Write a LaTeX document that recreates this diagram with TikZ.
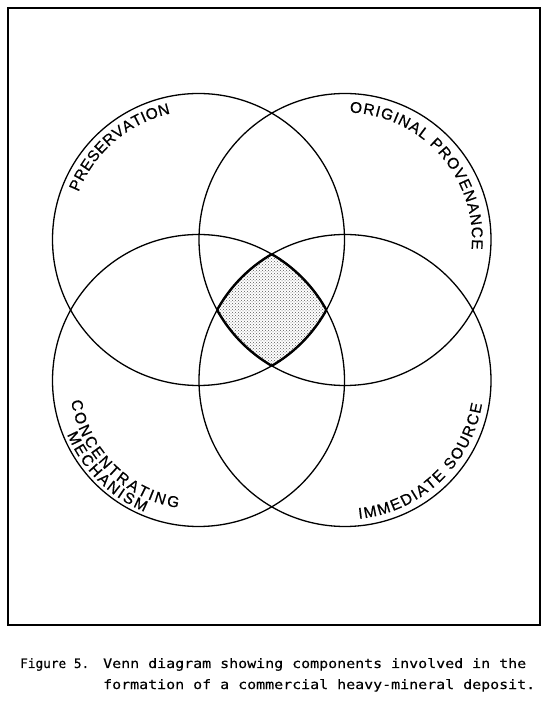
\documentclass[tikz,border=0pt]{standalone}
\usepackage{fontspec}
\setmainfont{Liberation Sans}
\newfontfamily\lblfont[FakeBold=0.6]{Liberation Sans}
\newfontfamily\capfont[FakeStretch=1.15,FakeBold=0.4]{DejaVu Sans Mono}
\newfontfamily\figfont[FakeStretch=0.98,FakeBold=0.4]{DejaVu Sans Mono}
\usetikzlibrary{decorations.text,patterns}
\begin{document}
\begin{tikzpicture}[x=1pt,y=1pt,
  ring/.style={line width=1.3pt},
  core/.style={line width=2.4pt},
  framebox/.style={line width=2.2pt},
  lbl/.style={decorate, decoration={text along path, text align=center, text={#1}}},
  capt/.style={anchor=base west, inner sep=0pt, font=\capfont\fontsize{13}{15}\selectfont},
  figt/.style={anchor=base west, inner sep=0pt, font=\figfont\fontsize{13}{15}\selectfont}]
\useasboundingbox (0,0) rectangle (547,701);
\draw[framebox] (8,76) rectangle (540,693);
\coordinate (tl) at (198.5,461.5);
\coordinate (tr) at (345,461.5);
\coordinate (bl) at (198.5,320.5);
\coordinate (br) at (345,320.5);
% shaded core
\begin{scope}
\clip (tl) circle[radius=146];
\clip (tr) circle[radius=146];
\clip (bl) circle[radius=146];
\fill[pattern=crosshatch dots, pattern color=black!65] (br) circle[radius=146];
\end{scope}
% circles
\draw[ring] (tl) circle[radius=146];
\draw[ring] (tr) circle[radius=146];
\draw[ring] (bl) circle[radius=146];
\draw[ring] (br) circle[radius=146];
% thicker outline of the core
\begin{scope}
\clip (tr) circle[radius=146]; \clip (bl) circle[radius=146]; \clip (br) circle[radius=146];
\draw[core] (tl) circle[radius=146];
\end{scope}
\begin{scope}
\clip (tl) circle[radius=146]; \clip (bl) circle[radius=146]; \clip (br) circle[radius=146];
\draw[core] (tr) circle[radius=146];
\end{scope}
\begin{scope}
\clip (tl) circle[radius=146]; \clip (tr) circle[radius=146]; \clip (br) circle[radius=146];
\draw[core] (bl) circle[radius=146];
\end{scope}
\begin{scope}
\clip (tl) circle[radius=146]; \clip (tr) circle[radius=146]; \clip (bl) circle[radius=146];
\draw[core] (br) circle[radius=146];
\end{scope}
% labels
\path[lbl={|\lblfont\fontsize{15.5}{15.5}\selectfont|{P\kern.4pt}{R\kern.4pt}{E\kern.4pt}{S\kern.4pt}{E\kern.4pt}{R\kern.4pt}{V\kern.4pt}{A\kern.4pt}{T\kern.4pt}{I\kern.4pt}{O\kern.4pt}N}]
  (tl) ++(180:129) arc[start angle=180, end angle=81, radius=129];
\path[lbl={|\lblfont\fontsize{15.5}{15.5}\selectfont|{O\kern1pt}{R\kern1pt}{I\kern1pt}{G\kern1pt}{I\kern1pt}{N\kern1pt}{A\kern1pt}{L\kern1pt}{\ \kern1pt}{P\kern1pt}{R\kern1pt}{O\kern1pt}{V\kern1pt}{E\kern1pt}{N\kern1pt}{A\kern1pt}{N\kern1pt}{C\kern1pt}E}]
  (tr) ++(110:127) arc[start angle=110, end angle=-26.6, radius=127];
\path[lbl={|\lblfont\fontsize{15.5}{15.5}\selectfont|{C\kern2.2pt}{O\kern2.2pt}{N\kern2.2pt}{C\kern2.2pt}{E\kern2.2pt}{N\kern2.2pt}{T\kern2.2pt}{R\kern2.2pt}{A\kern2.2pt}{T\kern2.2pt}{I\kern2.2pt}{N\kern2.2pt}G}]
  (bl) ++(170:129) arc[start angle=170, end angle=280, radius=129];
\path[lbl={|\lblfont\fontsize{15.5}{15.5}\selectfont|{M\kern2.2pt}{E\kern2.2pt}{C\kern2.2pt}{H\kern2.2pt}{A\kern2.2pt}{N\kern2.2pt}{I\kern2.2pt}{S\kern2.2pt}M}]
  (bl) ++(170:142) arc[start angle=170, end angle=280, radius=142];
\path[lbl={|\lblfont\fontsize{15.5}{15.5}\selectfont|{I\kern1.6pt}{M\kern1.6pt}{M\kern1.6pt}{E\kern1.6pt}{D\kern1.6pt}{I\kern1.6pt}{A\kern1.6pt}{T\kern1.6pt}{E\kern1.6pt}{\ \kern1.6pt}{S\kern1.6pt}{O\kern1.6pt}{U\kern1.6pt}{R\kern1.6pt}{C\kern1.6pt}E}]
  (br) ++(-100:139) arc[start angle=-100, end angle=6, radius=139];
% caption
\node[figt] (fig) at (20,33) {Figure 5.};
\node[capt] (cap1) at (103,33) {Venn diagram showing components involved in the};
\node[capt] (cap2) at (103,12) {formation of a commercial heavy-mineral deposit.};
\end{tikzpicture}
\end{document}
